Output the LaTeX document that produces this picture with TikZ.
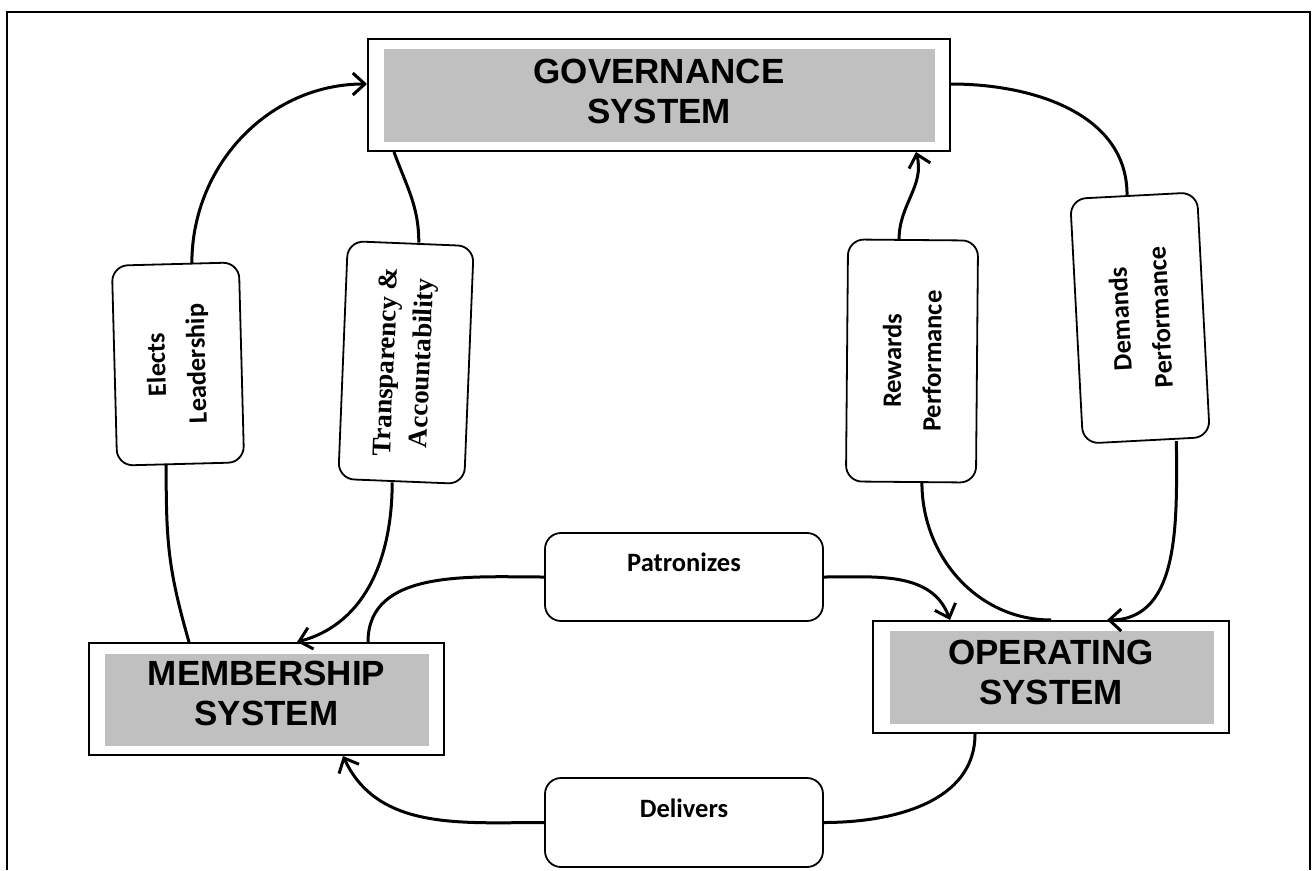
\documentclass[tikz,border=0pt]{standalone}
\usepackage{fontspec}
\setmainfont{Liberation Sans}
\newfontfamily\calib{Carlito}
\newfontfamily\tnr{Liberation Serif}
\usetikzlibrary{arrows.meta,calc}
\definecolor{boxgray}{HTML}{C0C0C0}
\begin{document}
\begin{tikzpicture}[x=1pt,y=1pt,
  sysouter/.style={draw=black, line width=2pt, fill=white, inner sep=0pt},
  sysinner/.style={fill=boxgray, inner sep=0pt},
  systext/.style={align=center, font=\fontsize{35}{40}\selectfont\bfseries, inner sep=0pt},
  lbl/.style={draw=black, line width=1.8pt, rounded corners=16pt, fill=white, align=center,
    font=\calib\fontsize{26.5}{40}\selectfont\bfseries, inner sep=0pt},
  conn/.style={line width=3pt},
  arr/.style={conn, -{Straight Barb[length=12pt,width=22pt,line width=3pt]}},
]
\useasboundingbox (0,0) rectangle (1316,-870);
% outer frame
\draw[line width=2pt] (7,-870) -- (7,-12) -- (1310,-12) -- (1310,-870);

% system boxes
\node[sysouter, minimum width=582pt, minimum height=112pt] (gov) at (659,-95) {};
\node[sysinner, minimum width=551pt, minimum height=93pt] (govfill) at (659.5,-95.5) {};
\node[systext] (govtext) at (659,-91.5) {GOVERNANCE\\SYSTEM};

\node[sysouter, minimum width=355pt, minimum height=112pt] (mem) at (266.5,-699) {};
\node[sysinner, minimum width=324pt, minimum height=92pt] (memfill) at (267,-700) {};
\node[systext] (memtext) at (266.5,-693) {MEMBERSHIP\\SYSTEM};

\node[sysouter, minimum width=356pt, minimum height=112pt] (op) at (1051,-677) {};
\node[sysinner, minimum width=324pt, minimum height=93pt] (opfill) at (1052,-677.5) {};
\node[systext] (optext) at (1051,-672.5) {OPERATING\\SYSTEM};

% label boxes
\node[lbl, rotate=91.5, minimum width=200pt, minimum height=127pt] (elects) at (178,-364) {Elects\\Leadership};
\node[lbl, rotate=87.7, minimum width=238pt, minimum height=126pt,
      font=\tnr\fontsize{27}{36}\selectfont\bfseries] (transp) at (406,-362.5) {Transparency \&\\Accountability};
\node[lbl, rotate=89.5, minimum width=242pt, minimum height=130pt] (rewards) at (912,-361) {Rewards\\Performance};
\node[lbl, rotate=93, minimum width=245pt, minimum height=127pt] (demands) at (1140,-318) {Demands\\Performance};
\node[lbl, minimum width=278pt, minimum height=88pt, text height=18pt, text depth=29pt] (patr) at (684,-577) {Patronizes};
\node[lbl, minimum width=278pt, minimum height=89pt, text height=18pt, text depth=29pt] (deliv) at (684,-822.5) {Delivers};

% connectors
\draw[conn] ([xshift=101pt]mem.north west) to[out=106,in=-90,looseness=1.1] ([xshift=-14.5pt]elects.west);
\draw[arr] ([xshift=16.5pt]elects.east) to[out=90,in=180] ([yshift=11pt]gov.west);

\draw[conn] ([xshift=27pt]gov.south west) to[out=-70,in=90] ([xshift=8pt]transp.east);
\draw[arr] ([xshift=-9pt]transp.west) to[out=-90,in=15] ([xshift=30.5pt]mem.north);

\draw[conn] ([xshift=101.5pt]mem.north) to[out=90,in=180] (patr.west);
\draw[arr] (patr.east) to[out=0,in=110] ([xshift=-101pt]op.north);

\draw[conn] ([xshift=-76pt]op.south) to[out=-90,in=0] (deliv.east);
\draw[arr] (deliv.west) to[out=180,in=-65] ([xshift=76.5pt]mem.south);

\draw[conn] ([xshift=11pt]rewards.west) to[out=-90,in=180] (op.north);
\draw[arr] ([xshift=-14pt]rewards.east) to[out=90,in=-75] ([xshift=-35pt]gov.south east);

\draw[conn] ([yshift=11pt]gov.east) to[out=0,in=90] ([xshift=-6.5pt]demands.east);
\draw[arr] ([xshift=30pt]demands.west) to[out=-90,in=0] ([xshift=56pt]op.north);
\end{tikzpicture}
\end{document}
